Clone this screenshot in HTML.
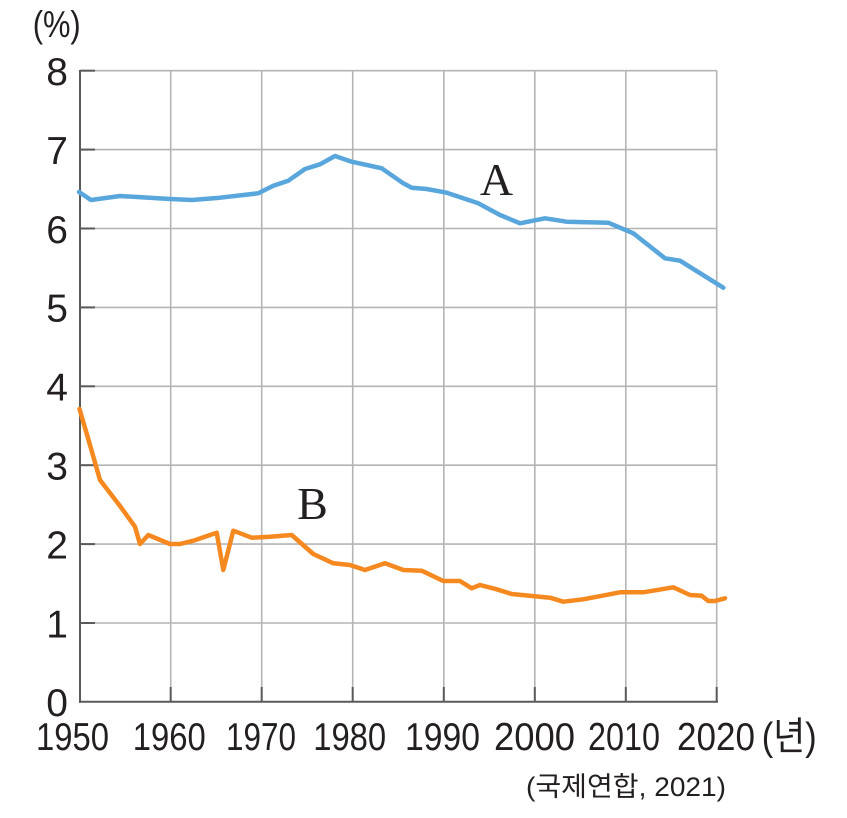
<!DOCTYPE html>
<html><head><meta charset="utf-8"><style>
html,body{margin:0;padding:0;background:#fff;}
svg{display:block;}
text{font-family:"Liberation Sans","Noto Sans CJK KR",sans-serif;fill:#231f20;}
.serif{font-family:"Liberation Serif",serif;}
</style></head><body>
<svg width="847" height="818" viewBox="0 0 847 818" xmlns="http://www.w3.org/2000/svg">
<g stroke="#b4b4b4" stroke-width="1.6" fill="none">
<line x1="80" y1="70.7" x2="717" y2="70.7"/>
<line x1="80" y1="149.6" x2="717" y2="149.6"/>
<line x1="80" y1="228.5" x2="717" y2="228.5"/>
<line x1="80" y1="307.4" x2="717" y2="307.4"/>
<line x1="80" y1="386.3" x2="717" y2="386.3"/>
<line x1="80" y1="465.2" x2="717" y2="465.2"/>
<line x1="80" y1="544.1" x2="717" y2="544.1"/>
<line x1="80" y1="623.0" x2="717" y2="623.0"/>
<line x1="170.7" y1="70.7" x2="170.7" y2="702"/>
<line x1="261.7" y1="70.7" x2="261.7" y2="702"/>
<line x1="352.7" y1="70.7" x2="352.7" y2="702"/>
<line x1="443.8" y1="70.7" x2="443.8" y2="702"/>
<line x1="534.8" y1="70.7" x2="534.8" y2="702"/>
<line x1="625.8" y1="70.7" x2="625.8" y2="702"/>
<line x1="716.7" y1="70.7" x2="716.7" y2="702"/>
</g>
<g stroke="#5a5a5a" stroke-width="2" fill="none">
<line x1="80" y1="70" x2="80" y2="702.7"/>
<line x1="79" y1="701.7" x2="718" y2="701.7"/>
<line x1="80" y1="70.7" x2="95" y2="70.7"/>
<line x1="80" y1="149.6" x2="95" y2="149.6"/>
<line x1="80" y1="228.5" x2="95" y2="228.5"/>
<line x1="80" y1="307.4" x2="95" y2="307.4"/>
<line x1="80" y1="386.3" x2="95" y2="386.3"/>
<line x1="80" y1="465.2" x2="95" y2="465.2"/>
<line x1="80" y1="544.1" x2="95" y2="544.1"/>
<line x1="80" y1="623.0" x2="95" y2="623.0"/>
<line x1="170.7" y1="687" x2="170.7" y2="702"/>
<line x1="261.7" y1="687" x2="261.7" y2="702"/>
<line x1="352.7" y1="687" x2="352.7" y2="702"/>
<line x1="443.8" y1="687" x2="443.8" y2="702"/>
<line x1="534.8" y1="687" x2="534.8" y2="702"/>
<line x1="625.8" y1="687" x2="625.8" y2="702"/>
<line x1="716.7" y1="687" x2="716.7" y2="702"/>
</g>
<polyline fill="none" stroke="#58a6dc" stroke-width="4.5" stroke-linejoin="round" stroke-linecap="round" points="79,192 91,200 120,196 170,199 192,200 220,197.7 258.3,193.3 273.3,185.7 288.3,180.7 305,169 320,164.3 335,156 351.7,161.7 381.7,168.3 403.3,183.3 411.7,187.7 426.7,189 446.7,192.7 463.3,198.3 478.3,203.3 500,215 520,223.3 545,218.3 566.7,221.7 608.3,222.7 633.3,233.3 665,258.3 680,260.7 723.3,287.7"/>
<polyline fill="none" stroke="#f5891f" stroke-width="4.5" stroke-linejoin="round" stroke-linecap="round" points="79.5,409 90,445 100,480 120,506 135,526.7 140,544 148.3,535 170,544 180,544 193.3,540.7 216.7,532.7 223.3,570 233.3,530.7 251.7,537.7 270,536.7 291.7,535 313.3,554 333.3,563.3 350,565 365,570 385,563.3 403.3,570 421.7,570.7 443.3,581 460,581 471.7,588.3 480,585 496.7,589.3 511.7,594 550,597.7 563.3,601.7 583.3,599.3 620,592.3 643.3,592.3 673.3,587.3 690,595 701.7,595.7 708.3,601 715,601 725,598.3"/>
<text class="serif" x="496.5" y="195" font-size="46" text-anchor="middle">A</text>
<text class="serif" x="312.5" y="519" font-size="46" text-anchor="middle">B</text>
<g font-size="39" text-anchor="end">
<text x="68" y="85">8</text>
<text x="68" y="163.9">7</text>
<text x="68" y="242.8">6</text>
<text x="68" y="321.7">5</text>
<text x="68" y="400.6">4</text>
<text x="68" y="479.5">3</text>
<text x="68" y="558.4">2</text>
<text x="68" y="637.3">1</text>
<text x="68" y="716.2">0</text>
</g>
<g font-size="39">
<text x="36" y="750" textLength="73" lengthAdjust="spacingAndGlyphs">1950</text>
<text x="132.8" y="750" textLength="73" lengthAdjust="spacingAndGlyphs">1960</text>
<text x="226" y="750" textLength="70" lengthAdjust="spacingAndGlyphs">1970</text>
<text x="313.2" y="750" textLength="73" lengthAdjust="spacingAndGlyphs">1980</text>
<text x="405" y="750" textLength="75" lengthAdjust="spacingAndGlyphs">1990</text>
<text x="494" y="750" textLength="81" lengthAdjust="spacingAndGlyphs">2000</text>
<text x="588" y="750" textLength="72" lengthAdjust="spacingAndGlyphs">2010</text>
<text x="677" y="750" textLength="78" lengthAdjust="spacingAndGlyphs">2020</text>
<text x="761.7" y="750" textLength="55" lengthAdjust="spacingAndGlyphs">(년)</text>
</g>
<text x="32.7" y="37" font-size="37" textLength="48" lengthAdjust="spacingAndGlyphs">(%)</text>
<text x="526" y="796" font-size="27" textLength="200" lengthAdjust="spacingAndGlyphs">(국제연합, 2021)</text>
</svg>
</body></html>
